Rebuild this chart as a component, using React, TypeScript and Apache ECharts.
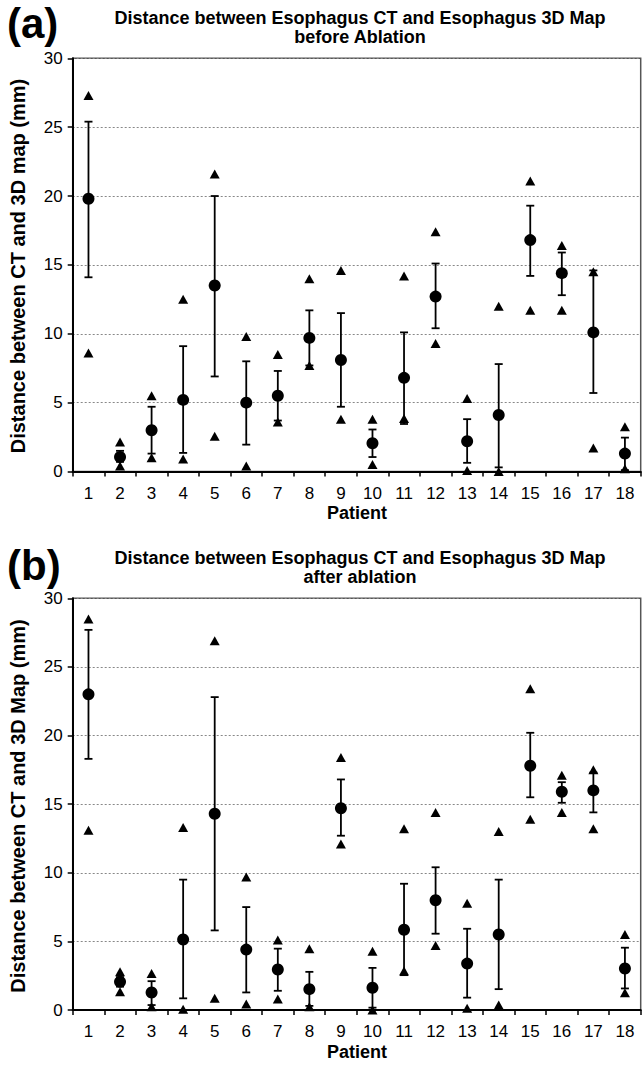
import React, { useEffect, useRef } from "react";
import * as echarts from "echarts";

const patients = ["1","2","3","4","5","6","7","8","9","10","11","12","13","14","15","16","17","18"];
const yTicks = [0, 5, 10, 15, 20, 25, 30];

// Panel (a) before ablation
const meanA = [19.8, 1.05, 3.0, 5.2, 13.5, 5.0, 5.5, 9.7, 8.1, 2.05, 6.8, 12.7, 2.2, 4.1, 16.8, 14.4, 10.1, 1.3];
const upperA = [25.4, 1.5, 4.7, 9.1, 20.0, 8.0, 7.3, 11.7, 11.5, 3.05, 10.1, 15.1, 3.8, 7.8, 19.3, 15.9, 14.6, 2.46];
const lowerA = [14.1, 0.7, 1.3, 1.35, 6.9, 1.95, 3.7, 7.7, 4.7, 1.05, 3.45, 10.4, 0.63, 0.3, 14.2, 12.8, 5.7, 0.1];
const maxA = [27.3, 2.15, 5.5, 12.5, 21.6, 9.8, 8.5, 14.0, 14.6, 3.8, 14.2, 17.4, 5.3, 12.0, 21.1, 16.4, 14.5, 3.25];
const minA = [8.6, 0.4, 1.0, 0.9, 2.56, 0.4, 3.6, 7.7, 3.8, 0.5, 3.85, 9.3, 0.07, 0.0, 11.7, 11.7, 1.7, 0.2];

// Panel (b) after ablation
const meanB = [23.0, 2.05, 1.28, 5.14, 14.3, 4.4, 2.95, 1.52, 14.7, 1.62, 5.85, 8.0, 3.38, 5.5, 17.8, 15.9, 16.0, 3.02];
const upperB = [27.7, 2.4, 2.1, 9.5, 22.8, 7.5, 4.47, 2.78, 16.8, 3.07, 9.2, 10.4, 5.92, 9.5, 20.2, 16.6, 17.3, 4.54];
const lowerB = [18.3, 1.7, 0.36, 0.85, 5.8, 1.28, 1.4, 0.3, 12.7, 0.17, 2.54, 5.56, 0.9, 1.52, 15.5, 15.1, 14.4, 1.57];
const maxB = [28.5, 2.78, 2.66, 13.3, 26.9, 9.7, 5.1, 4.47, 18.4, 4.28, 13.2, 14.4, 7.78, 13.0, 23.4, 17.1, 17.5, 5.5];
const minB = [13.1, 1.33, 0.24, 0.05, 0.85, 0.43, 0.8, 0.24, 12.1, 0.0, 2.85, 4.7, 0.12, 0.36, 13.9, 14.4, 13.2, 1.26];

const FONT = "'Liberation Sans', Arial, sans-serif";

function errorRender(params: any, api: any) {
  const x = api.value(0);
  const lo = api.coord([x, api.value(1)]);
  const hi = api.coord([x, api.value(2)]);
  const hw = 4;
  const style = { stroke: "#000", lineWidth: 1.8 };
  return {
    type: "group",
    children: [
      { type: "line", shape: { x1: lo[0], y1: lo[1], x2: hi[0], y2: hi[1] }, style },
      { type: "line", shape: { x1: lo[0] - hw, y1: lo[1], x2: lo[0] + hw, y2: lo[1] }, style },
      { type: "line", shape: { x1: hi[0] - hw, y1: hi[1], x2: hi[0] + hw, y2: hi[1] }, style },
    ],
  };
}

const markStyle = { color: "#000", opacity: 1 };

function panelSeries(idx: number, mean: number[], lower: number[], upper: number[], mx: number[], mn: number[]) {
  return [
    {
      type: "custom",
      xAxisIndex: idx,
      yAxisIndex: idx,
      renderItem: errorRender,
      encode: { x: 0, y: [1, 2] },
      data: patients.map((_, i) => [i, lower[i], upper[i]]),
      z: 2,
    },
    {
      type: "scatter",
      xAxisIndex: idx,
      yAxisIndex: idx,
      symbol: "triangle",
      symbolSize: [10, 9],
      itemStyle: markStyle,
      data: mx,
      z: 3,
    },
    {
      type: "scatter",
      xAxisIndex: idx,
      yAxisIndex: idx,
      symbol: "triangle",
      symbolSize: [10, 9],
      itemStyle: markStyle,
      data: mn,
      z: 3,
    },
    {
      type: "scatter",
      xAxisIndex: idx,
      yAxisIndex: idx,
      symbol: "circle",
      symbolSize: 12,
      itemStyle: markStyle,
      data: mean,
      z: 4,
    },
  ];
}

function xAxis(idx: number) {
  return {
    type: "category",
    gridIndex: idx,
    data: patients,
    boundaryGap: true,
    axisLine: { show: true, lineStyle: { color: "#000", width: 2 } },
    axisTick: { show: true, length: 5, lineStyle: { color: "#000", width: 1.5 } },
    axisLabel: { color: "#000", fontSize: 17, fontFamily: FONT, margin: 13 },
    splitLine: { show: false },
  };
}

function yAxis(idx: number) {
  return {
    type: "value",
    gridIndex: idx,
    min: yTicks[0],
    max: yTicks[yTicks.length - 1],
    interval: 5,
    axisLine: { show: true, lineStyle: { color: "#000", width: 2 } },
    axisTick: { show: true, length: 5, lineStyle: { color: "#000", width: 1.5 } },
    axisLabel: { color: "#000", fontSize: 17, fontFamily: FONT, margin: 10 },
    splitLine: { show: true, lineStyle: { color: "#888", width: 1, type: [2, 2] } },
  };
}

export default function App() {
  const ref = useRef<HTMLDivElement>(null);
  useEffect(() => {
    if (!ref.current) return;
    const chart = echarts.init(ref.current, null, { renderer: "svg" });
    const titleStyle = { fill: "#000", font: `bold 18px ${FONT}`, textAlign: "center", textVerticalAlign: "middle" };
    const yTitleStyle = { fill: "#000", font: `bold 20px ${FONT}`, textAlign: "center", textVerticalAlign: "middle" };
    chart.setOption({
      animation: false,
      backgroundColor: "#fff",
      grid: [
        { left: 72.7, top: 58.3, width: 568, height: 413.2, show: true, borderColor: "#555", borderWidth: 1.5, backgroundColor: "transparent" },
        { left: 72.7, top: 598.3, width: 568, height: 411.7, show: true, borderColor: "#555", borderWidth: 1.5, backgroundColor: "transparent" },
      ],
      xAxis: [xAxis(0), xAxis(1)],
      yAxis: [yAxis(0), yAxis(1)],
      series: [
        ...panelSeries(0, meanA, lowerA, upperA, maxA, minA),
        ...panelSeries(1, meanB, lowerB, upperB, maxB, minB),
      ],
      graphic: [
        { type: "text", x: 7, y: 23, style: { text: "(a)", fill: "#000", font: `bold 42px ${FONT}`, textVerticalAlign: "middle" } },
        { type: "text", x: 360, y: 18, style: { ...titleStyle, text: "Distance between Esophagus CT and Esophagus 3D Map" } },
        { type: "text", x: 360, y: 37, style: { ...titleStyle, text: "before Ablation" } },
        { type: "text", x: 18, y: 266, rotation: Math.PI / 2, style: { ...yTitleStyle, text: "Distance between CT and 3D map (mm)" } },
        { type: "text", x: 357, y: 513, style: { ...titleStyle, text: "Patient" } },
        { type: "text", x: 7, y: 565, style: { text: "(b)", fill: "#000", font: `bold 42px ${FONT}`, textVerticalAlign: "middle" } },
        { type: "text", x: 360, y: 558, style: { ...titleStyle, text: "Distance between Esophagus CT and Esophagus 3D Map" } },
        { type: "text", x: 360, y: 577, style: { ...titleStyle, text: "after ablation" } },
        { type: "text", x: 18, y: 806, rotation: Math.PI / 2, style: { ...yTitleStyle, text: "Distance between CT and 3D Map (mm)" } },
        { type: "text", x: 357, y: 1052, style: { ...titleStyle, text: "Patient" } },
      ],
    });
    return () => chart.dispose();
  }, []);
  return (
    <div
      ref={ref}
      style={{ position: "absolute", left: 0, top: 0, width: 643, height: 1066 }}
    />
  );
}
